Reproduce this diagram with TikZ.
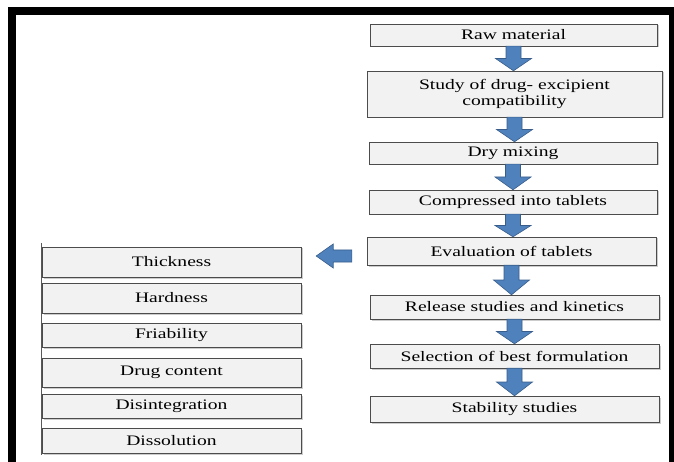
\documentclass[tikz,border=0pt]{standalone}
\usepackage{fontspec}
\setmainfont{Liberation Serif}[FakeStretch=1.35]
\usetikzlibrary{calc,shadows}
\definecolor{arrowblue}{RGB}{79,129,189}
\definecolor{arrowedge}{RGB}{56,93,138}

% Blue block arrow from the bottom of one box down to the top of the next
\newcommand{\blockdown}[2]{%
\coordinate (m) at ($(#1.south)!.5!(#1.south|-#2.north)$);
\filldraw[blue arrow] ($(#1.south)+(-7.5,0)$) -- ($(#1.south)+(7.5,0)$) -- ($(m)+(7.5,0)$)
 -- ($(m)+(18,0)$) -- (#1.south|-#2.north) -- ($(m)+(-18,0)$) -- ($(m)+(-7.5,0)$) -- cycle;
}

\begin{document}
\begin{tikzpicture}[x=1pt,y=-1pt,font=\fontsize{14.5}{16.7}\selectfont]
\tikzset{
% Grey boxes with a small shadow, and the blue arrows
step box/.style={rectangle,draw=black!70,fill=black!5,inner sep=0,
  drop shadow={shadow xshift=1.5pt,shadow yshift=-1.5pt,fill=black!40}},
blue arrow/.style={fill=arrowblue,draw=arrowedge,line width=0.6}
}
\useasboundingbox (0,0) rectangle (674,462);
\clip (0,0) rectangle (674,462);
% Outer frame
\draw[line width=8] (12,480) -- (12,11) -- (673,11) -- (673,480);
% Main steps
\node(raw)[step box,minimum width=287,minimum height=22] at (513.5,35) {Raw material};
\node(study)[step box,minimum width=295,minimum height=46,align=center] at (514.5,94)
 {Study of drug- excipient\\compatibility};
\node(dry)[step box,minimum width=288,minimum height=22] at (513,153) {Dry mixing};
\node(comp)[step box,minimum width=288,minimum height=24] at (513,202) {Compressed into tablets};
\node(eval)[step box,minimum width=289,minimum height=28] at (511.5,251) {Evaluation of tablets};
\node(rel)[step box,minimum width=289,minimum height=24] at (514.5,307) {Release studies and kinetics};
\node(sel)[step box,minimum width=289,minimum height=24] at (514.5,356) {Selection of best formulation};
\node(stab)[step box,minimum width=289,minimum height=26] at (514.5,409) {Stability studies};
% Evaluation tests
\node(thick)[step box,minimum width=259,minimum height=30] at (171.5,262) {Thickness};
\node(hard)[step box,minimum width=259,minimum height=30] at (171.5,298) {Hardness};
\node(fria)[step box,minimum width=259,minimum height=24] at (171.5,335) {Friability};
\node(drug)[step box,minimum width=259,minimum height=29] at (171.5,372.5) {Drug content};
\node(disi)[step box,minimum width=259,minimum height=24] at (171.5,406) {Disintegration};
\node(diss)[step box,minimum width=259,minimum height=25] at (171.5,440.5) {Dissolution};
\draw[black!65,line width=1.2] ($(thick.north west)+(0,-4)$) -- ($(diss.south west)+(0,2)$);
% Arrows
\blockdown{raw}{study}
\blockdown{study}{dry}
\blockdown{dry}{comp}
\blockdown{comp}{eval}
\blockdown{eval}{rel}
\blockdown{rel}{sel}
\blockdown{sel}{stab}
\coordinate (la) at ($(eval.west)+(-15,5)$);
\coordinate (lb) at ($(thick.east)+(15,-5)$);
\filldraw[blue arrow] ($(la)+(0,-6)$) -- ($(la)+(0,6)$) -- ($(lb|-la)+(17,6)$) -- ($(lb|-la)+(17,12)$)
 -- (lb|-la) -- ($(lb|-la)+(17,-12)$) -- ($(lb|-la)+(17,-6)$) -- cycle;
\end{tikzpicture}
\end{document}
